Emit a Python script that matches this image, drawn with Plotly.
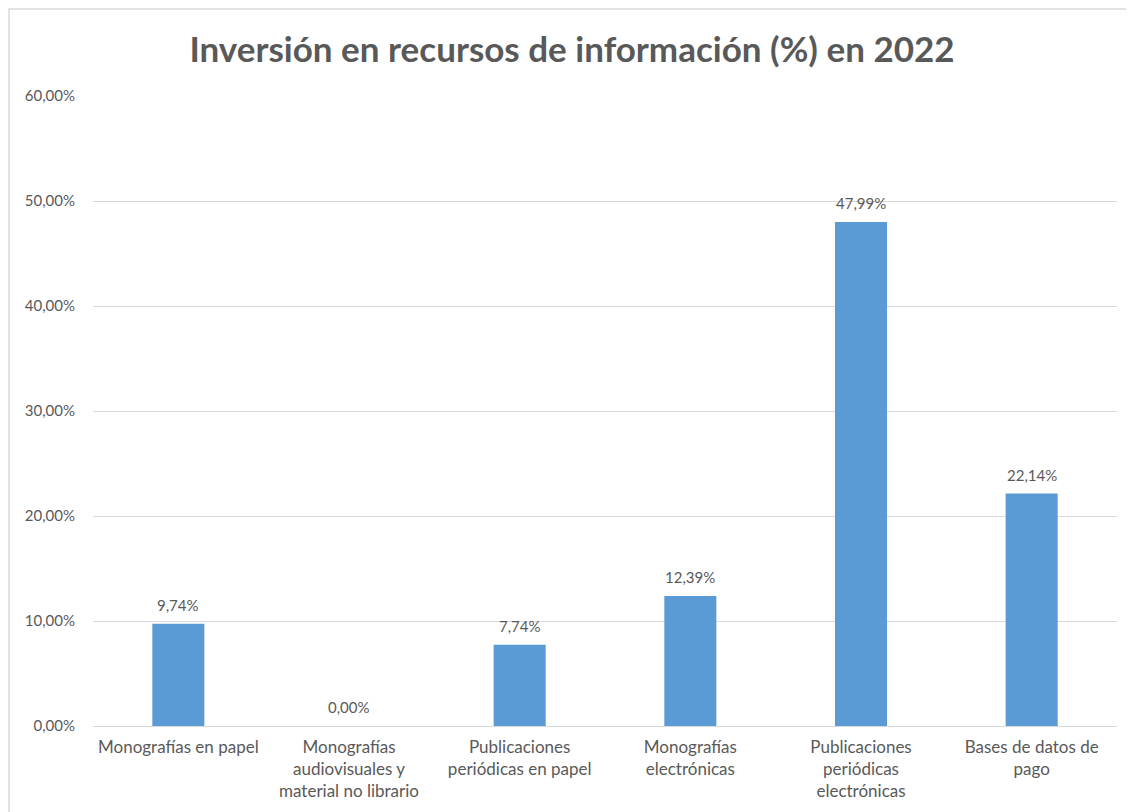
import plotly.graph_objects as go

categories = [
    "Monografías en papel",
    "Monografías<br>audiovisuales y<br>material no librario",
    "Publicaciones<br>periódicas en papel",
    "Monografías<br>electrónicas",
    "Publicaciones<br>periódicas<br>electrónicas",
    "Bases de datos de<br>pago",
]
values = [9.74, 0.00, 7.74, 12.39, 47.99, 22.14]
value_labels = ["9,74%", "0,00%", "7,74%", "12,39%", "47,99%", "22,14%"]
ytick_vals = [0, 10, 20, 30, 40, 50, 60]
ytick_text = ["0,00%", "10,00%", "20,00%", "30,00%", "40,00%", "50,00%", "60,00%"]

FONT = "Lato"
GRAY = "#595959"
W, H = 1126, 804
ML, MR, MT, MB = 85, 17, 88, 86
PW, PH = W - ML - MR, H - MT - MB

fig = go.Figure(go.Bar(
    x=categories, y=values,
    marker=dict(color="#5B9BD5", line=dict(width=0)),
    width=0.305,
    hoverinfo="skip",
))

for c, v, t in zip(categories, values, value_labels):
    fig.add_annotation(x=c, y=v, text=t, showarrow=False, yanchor="bottom",
                       yshift=8, font=dict(family=FONT, size=15, color=GRAY))

fig.add_shape(type="rect", xref="paper", yref="paper",
              x0=-ML / PW + 0.001, x1=1.1, y0=-0.3, y1=1 + (MT - 1) / PH,
              line=dict(color="#D9D9D9", width=1.5), fillcolor="rgba(0,0,0,0)", layer="below")

fig.update_layout(
    width=W, height=H,
    margin=dict(l=ML, r=MR, t=MT, b=MB),
    paper_bgcolor="white", plot_bgcolor="white",
    showlegend=False,
    title=dict(text="<b>Inversión en recursos de información (%) en 2022</b>",
               x=(572 - 8) / W, xanchor="center", y=1 - 42 / H, yanchor="middle",
               font=dict(family=FONT, size=35, color=GRAY)),
    font=dict(family=FONT, color=GRAY),
    xaxis=dict(showgrid=False, showline=False, ticks="", ticklabelstandoff=9,
               tickfont=dict(family=FONT, size=17, color=GRAY)),
    yaxis=dict(range=[0, 60], tickvals=ytick_vals, ticktext=ytick_text,
               showgrid=True, gridcolor="#D9D9D9", gridwidth=1,
               zeroline=True, zerolinecolor="#D9D9D9", zerolinewidth=1,
               showline=False, ticks="", ticklabelstandoff=17,
               tickfont=dict(family=FONT, size=15, color=GRAY)),
)

fig.write_html("out.html")
